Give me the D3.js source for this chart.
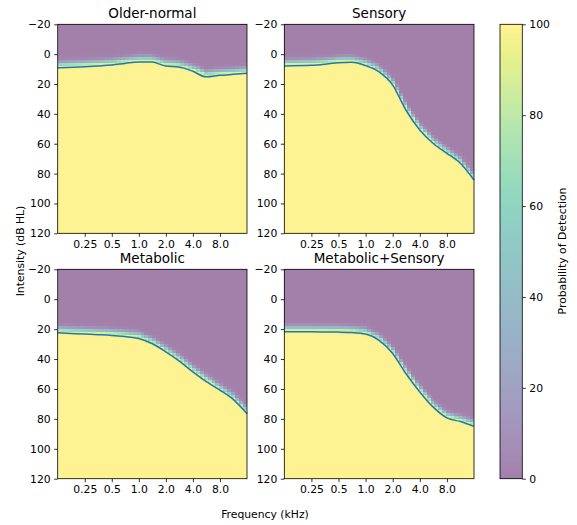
<!DOCTYPE html>
<html><head><meta charset="utf-8">
<script src="https://cdn.jsdelivr.net/npm/d3@7"></script>
<style>body{margin:0;background:#fff}svg{display:block}text{font-family:"DejaVu Sans",sans-serif;fill:#000}</style>
</head><body><svg id="c" width="577" height="525"></svg>
<script>
const panelTitles = ["Older-normal","Sensory","Metabolic","Metabolic+Sensory"];
const freqs = [0.125,0.25,0.35,0.5,0.7,1.0,1.4,2.0,2.8,4.0,5.6,8.0,11.3,16];
const thrOlder   = [9.1, 8.4, 7.9, 7.3, 6.2, 5.2, 5.3, 8.0, 8.6, 11.5, 15.2, 14.2, 13.5, 12.8];
const thrSensory = [7.9, 7.5, 6.8, 5.7, 5.5, 7.7, 11.7, 20.7, 37.4, 50.8, 59.7, 66.4, 73.1, 84.3];
const thrMetab   = [22.5, 23.3, 23.7, 24.2, 25.0, 26.2, 29.6, 35.2, 41.2, 48.6, 55.0, 60.8, 67.1, 76.5];
const thrMetSens = [21.8, 21.8, 21.9, 22.0, 22.3, 23.3, 27.4, 36.3, 49.7, 62.0, 72.0, 79.3, 81.8, 85.0];
const thresholds = [thrOlder, thrSensory, thrMetab, thrMetSens];
const xTicks = [0.25,0.5,1.0,2.0,4.0,8.0];
const yTicks = [-20,0,20,40,60,80,100,120];
const cbTicks = [0,20,40,60,80,100];

const FS = 10.8, TFS = 13.5;
const svg = d3.select("#c");
const panels = [
  {x0:57.7,x1:247,y0:24.3,y1:233.3},
  {x0:284.3,x1:474,y0:24.3,y1:233.3},
  {x0:57.7,x1:247,y0:269.3,y1:478.7},
  {x0:284.3,x1:474,y0:269.3,y1:478.7}
];
const viridisA = t => { const c = d3.rgb(d3.interpolateViridis(t)); return d3.rgb((c.r+255)/2,(c.g+255)/2,(c.b+255)/2).formatHex(); };

panels.forEach((p,i)=>{
  const x = d3.scaleLog().base(2).domain([0.125,16]).range([p.x0,p.x1]);
  const y = d3.scaleLinear().domain([-20,120]).range([p.y0,p.y1]);
  const g = svg.append("g");
  const thr = thresholds[i];
  const interp = d3.scaleLinear().domain(freqs.map(f=>Math.log2(f))).range(thr);
  const nCols = 48, nRows = 70;
  const lx0 = Math.log2(0.125), lx1 = Math.log2(16);
  for(let c=0;c<nCols;c++){
    const la = lx0 + (lx1-lx0)*c/nCols, lb = lx0 + (lx1-lx0)*(c+1)/nCols;
    const t = interp((la+lb)/2);
    const xa = x(Math.pow(2,la)), xb = x(Math.pow(2,lb));
    for(let r=0;r<nRows;r++){
      const da = -20 + 140*r/nRows, db = -20 + 140*(r+1)/nRows;
      const dm = (da+db)/2;
      const pr = 1/(1+Math.exp(-(dm-(t-2.5))/0.9));
      g.append("rect").attr("x",xa).attr("y",y(da)).attr("width",xb-xa+0.4).attr("height",y(db)-y(da)+0.4)
        .attr("fill",viridisA(pr)).attr("shape-rendering","crispEdges");
    }
  }
  g.append("path").datum(freqs.map((f,k)=>[f,thr[k]]))
    .attr("d",d3.line().x(d=>x(d[0])).y(d=>y(d[1])).curve(d3.curveMonotoneX))
    .attr("fill","none").attr("stroke","#1f77b4").attr("stroke-width",1.5);
  g.append("rect").attr("x",p.x0).attr("y",p.y0).attr("width",p.x1-p.x0).attr("height",p.y1-p.y0)
    .attr("fill","none").attr("stroke","#000").attr("stroke-width",0.8);
  const ax = g.append("g").attr("transform",`translate(0,${p.y1})`)
    .call(d3.axisBottom(x).tickValues(xTicks).tickSize(3.5).tickPadding(3.5));
  ax.selectAll("text").text(d=>d===0.25?"0.25":d.toFixed(1));
  const ay = g.append("g").attr("transform",`translate(${p.x0},0)`)
    .call(d3.axisLeft(y).tickValues(yTicks).tickFormat(d=>d<0?"\u2212"+(-d):d).tickSize(3.5).tickPadding(3.5));
  [ax,ay].forEach(a=>{a.select(".domain").remove();a.selectAll("line").attr("stroke","#000").attr("stroke-width",0.8);a.selectAll("text").attr("font-size",FS).attr("font-family","DejaVu Sans");});
  g.append("text").attr("x",(p.x0+p.x1)/2).attr("y",p.y0-6).attr("text-anchor","middle").attr("font-size",TFS).text(panelTitles[i]);
});

// colorbar
const cb = {x0:500,x1:522.3,y0:24.3,y1:478.7};
const cy = d3.scaleLinear().domain([0,100]).range([cb.y1,cb.y0]);
const cg = svg.append("g");
const nS = 200;
for(let k=0;k<nS;k++){
  const va = 100*k/nS, vb = 100*(k+1)/nS;
  cg.append("rect").attr("x",cb.x0).attr("y",cy(vb)).attr("width",cb.x1-cb.x0).attr("height",cy(va)-cy(vb)+0.3)
    .attr("fill",viridisA((va+vb)/200)).attr("shape-rendering","crispEdges");
}
cg.append("rect").attr("x",cb.x0).attr("y",cb.y0).attr("width",cb.x1-cb.x0).attr("height",cb.y1-cb.y0).attr("fill","none").attr("stroke","#000").attr("stroke-width",0.8);
const cax = cg.append("g").attr("transform",`translate(${cb.x1},0)`).call(d3.axisRight(cy).tickValues(cbTicks).tickSize(3.5).tickPadding(3.5));
cax.select(".domain").remove();
cax.selectAll("line").attr("stroke","#000").attr("stroke-width",0.8);
cax.selectAll("text").attr("font-size",FS).attr("font-family","DejaVu Sans");
svg.append("text").attr("transform",`translate(566,251) rotate(-90)`).attr("text-anchor","middle").attr("font-size",FS).text("Probability of Detection");
svg.append("text").attr("transform",`translate(24,251) rotate(-90)`).attr("text-anchor","middle").attr("font-size",FS).text("Intensity (dB HL)");
svg.append("text").attr("x",265).attr("y",518).attr("text-anchor","middle").attr("font-size",FS).text("Frequency (kHz)");
</script></body></html>
